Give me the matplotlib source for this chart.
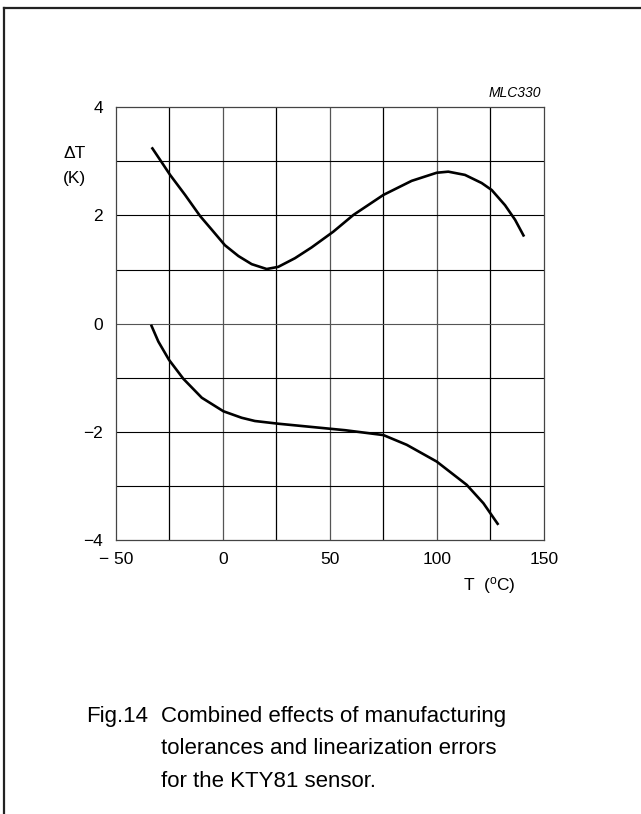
import numpy as np
import matplotlib
matplotlib.use("Agg")
import matplotlib.pyplot as plt
from matplotlib.lines import Line2D

plt.rcParams['font.family'] = ['Liberation Sans', 'DejaVu Sans']

# upper curve (max error)
t_up = [-33.2, -29.3, -24.6, -17.6, -10.6, -5.2, 1.0, 7.3, 13.5, 20.5, 25.9,
        33.7, 41.5, 51.6, 61.0, 75.0, 88.2, 99.9, 105.3, 113.1, 120.9,
        125.6, 131.8, 136.5, 140.7]
dt_up = [3.26, 3.03, 2.75, 2.38, 1.99, 1.74, 1.45, 1.25, 1.10, 1.01, 1.05,
         1.21, 1.41, 1.70, 2.01, 2.38, 2.64, 2.79, 2.81, 2.75, 2.60,
         2.47, 2.19, 1.92, 1.61]

# lower curve (min error)
t_lo = [-33.5, -30.1, -25.1, -18.4, -9.8, 0.3, 8.8, 15.0, 25.9, 41.5,
        57.1, 75.0, 85.9, 99.9, 113.9, 121.7, 128.7]
dt_lo = [-0.02, -0.33, -0.67, -1.02, -1.37, -1.62, -1.74, -1.80, -1.85, -1.91,
         -1.97, -2.06, -2.24, -2.55, -2.98, -3.32, -3.72]

xticks = [-50, 0, 50, 100, 150]
xlabels = ['\u2212 50', '0', '50', '100', '150']
yticks = [-4, -2, 0, 2, 4]
ylabels = ['\u22124', '\u22122', '0', '2', '4']

W, H = 641, 814
fig = plt.figure(figsize=(W / 100, H / 100), dpi=100)

# page frame: top and left lines only
fig.add_artist(Line2D([4 / W, 1], [1 - 8 / H, 1 - 8 / H], color='#222222', lw=1.6))
fig.add_artist(Line2D([4 / W, 4 / W], [0, 1 - 8 / H], color='#222222', lw=1.6))

ax = fig.add_axes([115.7 / W, 1 - 540 / H, (544 - 115.7) / W, (540 - 107.3) / H])
ax.set_xlim(-50, 150)
ax.set_ylim(-4, 4)

for x in np.arange(-25, 150, 25):
    c = '#555555' if x % 50 == 0 else 'black'
    ax.axvline(x, color=c, lw=0.9)
for y in np.arange(-3, 4, 1):
    c = '#555555' if y == 0 else 'black'
    ax.axhline(y, color=c, lw=0.8)
for s in ax.spines.values():
    s.set_color('#444444')
    s.set_linewidth(0.9)

ax.plot(t_up, dt_up, color='black', lw=1.9, solid_capstyle='butt')
ax.plot(t_lo, dt_lo, color='black', lw=1.9, solid_capstyle='butt')

ax.set_xticks(xticks)
ax.set_xticklabels(xlabels, fontsize=12.5)
ax.set_yticks(yticks)
ax.set_yticklabels(ylabels, fontsize=12.5)
ax.tick_params(length=0, pad=9)

fig.text(541 / W, 1 - 97 / H, 'MLC330', fontsize=10, style='italic',
         ha='right', va='baseline')
fig.text(63 / W, 1 - 158 / H, '\u0394T', fontsize=12.5, ha='left', va='baseline')
fig.text(63 / W, 1 - 183 / H, '(K)', fontsize=12.5, ha='left', va='baseline')
fig.text(463 / W, 1 - 590 / H, 'T  ($\\mathregular{^{o}}$C)', fontsize=12.5,
         ha='left', va='baseline')

fig.text(86 / W, 1 - 722 / H, 'Fig.14', fontsize=16, ha='left', va='baseline')
cap = ['Combined effects of manufacturing',
       'tolerances and linearization errors',
       'for the KTY81 sensor.']
for i, line in enumerate(cap):
    fig.text(161 / W, 1 - (722 + 32.5 * i) / H, line, fontsize=16,
             ha='left', va='baseline')

fig.savefig('out.png', dpi=100)
